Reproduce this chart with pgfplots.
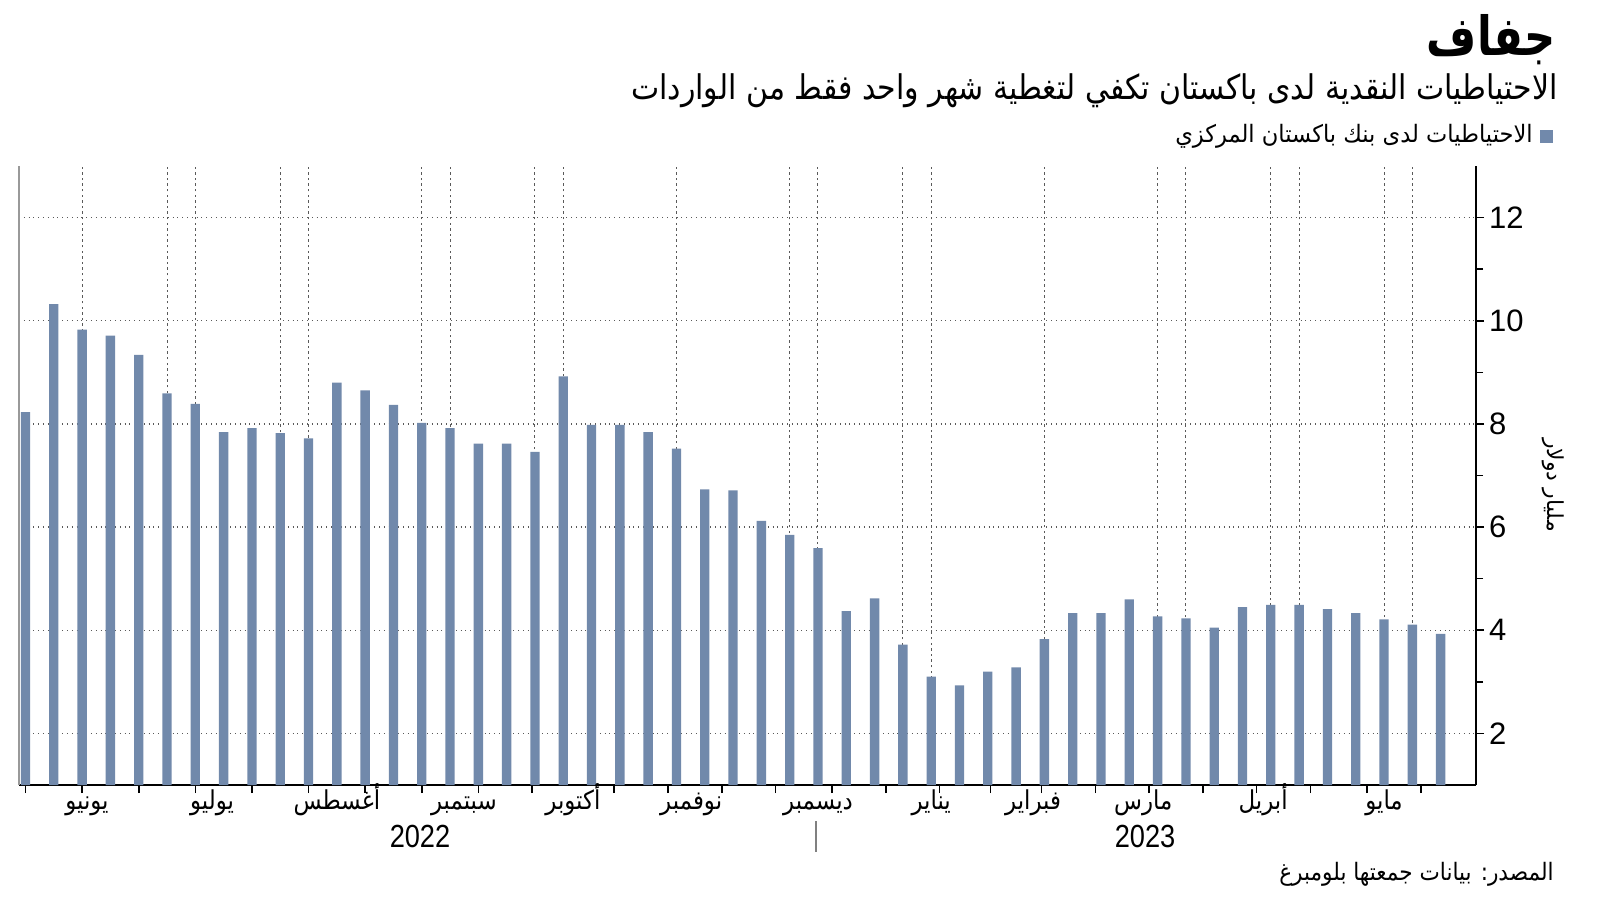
\documentclass[border=0pt]{standalone}
\usepackage{pgfplots}
\pgfplotsset{compat=1.18}
\usepackage{fontspec}
\setmainfont{Liberation Sans}
\newfontfamily\arabicfont[Script=Arabic]{DejaVu Sans}
\TeXXeTstate=1
\definecolor{barc}{RGB}{113,137,171}
\definecolor{gridc}{RGB}{90,90,90}
\newcommand{\AR}[1]{{\arabicfont\beginR #1\endR}}
\newcommand{\ML}[2]{\node[anchor=base, inner sep=0pt, font=\fontsize{13}{15}\selectfont] at ([yshift=-12pt]axis cs:#1,1) {\scalebox{0.88}[1]{\AR{#2}}};}
\pgfplotstableread{
x y
1 8.23
2 10.32
3 9.83
4 9.71
5 9.34
6 8.59
7 8.39
8 7.84
9 7.92
10 7.82
11 7.72
12 8.80
13 8.65
14 8.37
15 8.02
16 7.92
17 7.62
18 7.62
19 7.46
20 8.92
21 7.98
22 7.98
23 7.84
24 7.52
25 6.73
26 6.71
27 6.12
28 5.85
29 5.59
30 4.37
31 4.62
32 3.72
33 3.10
34 2.93
35 3.20
36 3.28
37 3.83
38 4.33
39 4.33
40 4.60
41 4.27
42 4.23
43 4.05
44 4.45
45 4.49
46 4.49
47 4.41
48 4.33
49 4.21
50 4.11
51 3.93
}\reserves
\begin{document}
\begin{tikzpicture}[x=1pt,y=1pt]
\path[use as bounding box] (0,0) rectangle (800,450.5);
\begin{axis}[
  at={(9.5pt,58pt)}, anchor=south west, scale only axis,
  width=728.5pt, height=309.5pt,
  xmin=0.77, xmax=52.25, ymin=1, ymax=13,
  axis x line*=bottom, axis y line*=right,
  axis line style={black, line width=0.9pt},
  clip mode=individual,
  xtick={1,3,5,7,9,11,13,15,17,18.9,21.8,23.7,25.6,27.5,29.5,31.4,33.3,35.1,36.9,38.8,40.7,42.6,44.5,46.4,48.4,50.3},
  xticklabels={},
  ytick={2,4,6,8,10,12},
  minor ytick={3,5,7,9,11},
  yticklabel pos=right,
  tick align=outside,
  major tick length=4pt, minor tick length=3.5pt,
  tick style={black, line width=0.8pt},
  ymajorgrids=true,
  major grid style={gridc, dotted, line width=0.7pt},
  extra x ticks={3,6,7,10,11,15,16,19,20,24,28,29,32,33,37,41,42,45,46,49,50},
  extra x tick labels={},
  extra x tick style={grid=major, major tick length=0pt, major grid style={gridc, dash pattern=on 1.2pt off 1.6pt, line width=0.5pt}},
  yticklabel style={font=\fontsize{15.5}{17}\selectfont, anchor=west, xshift=-1pt},
  /pgf/number format/assume math mode=true,
]
\addplot[ybar, bar width=0.33, fill=barc, draw=none] table[x=x, y=y] {\reserves};
\draw[gray!80, line width=0.6pt] (rel axis cs:0,0) -- (rel axis cs:0,1);
\ML{3.17}{يونيو}
\ML{7.59}{يوليو}
\ML{12.0}{أغسطس}
\ML{16.49}{سبتمبر}
\ML{20.34}{أكتوبر}
\ML{24.52}{نوفمبر}
\ML{29.0}{ديسمبر}
\ML{33.0}{يناير}
\ML{36.6}{فبراير}
\ML{40.49}{مارس}
\ML{44.73}{أبريل}
\ML{49.0}{مايو}
\end{axis}
\node[anchor=base, inner sep=0pt, font=\fontsize{16}{18}\selectfont] at (210,27) {\scalebox{0.85}[1]{2022}};
\node[anchor=base, inner sep=0pt, font=\fontsize{16}{18}\selectfont] at (572.5,27) {\scalebox{0.85}[1]{2023}};
\draw[gray, line width=0.6pt] (408,40) -- (408,24.5);
\node[anchor=center, rotate=-90, inner sep=0pt, font=\fontsize{11}{13}\selectfont] at (776.5,208) {\AR{مليار دولار}};
\node[anchor=base east, inner sep=0pt] at (778,422.5) {\scalebox{0.8}[1]{\arabicfont\fontsize{27}{30}\selectfont\bfseries\beginR جفاف\endR}};
\node[anchor=base east, inner sep=0pt] at (779,400.5) {\scalebox{0.88}[1]{\arabicfont\fontsize{17}{20}\selectfont\beginR الاحتياطيات النقدية لدى باكستان تكفي لتغطية شهر واحد فقط من الواردات\endR}};
\fill[barc] (770,379) rectangle (776.5,385.5);
\node[anchor=base east, inner sep=0pt] at (766.5,379) {\scalebox{0.94}[1]{\arabicfont\fontsize{12}{14}\selectfont\beginR الاحتياطيات لدى بنك باكستان المركزي\endR}};
\node[anchor=base east, inner sep=0pt] at (777,10.5) {\scalebox{0.9}[1]{\arabicfont\fontsize{12}{14}\selectfont\beginR المصدر: بيانات جمعتها بلومبرغ\endR}};
\end{tikzpicture}
\end{document}
